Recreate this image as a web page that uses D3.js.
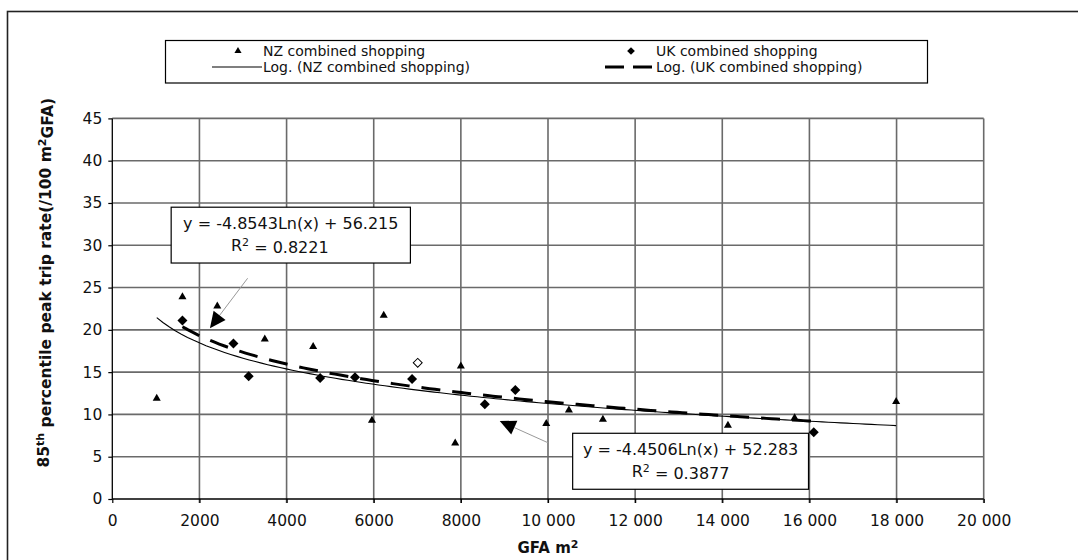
<!DOCTYPE html>
<html>
<head>
<meta charset="utf-8">
<script src="https://cdn.jsdelivr.net/npm/d3@7"></script>
<style>
  body { margin: 0; background: #fff; }
  text { font-family: "DejaVu Sans", Verdana, sans-serif; }
</style>
</head>
<body>
<div id="chart"></div>
<script>
// NZ combined shopping (GFA m2, trip rate)
var nzX = [1020, 1610, 2410, 3500, 4610, 5960, 6230, 7870, 8000, 9960, 10480, 11260, 14130, 15660, 17990];
var nzY = [11.9, 23.9, 22.8, 18.9, 18.0, 9.3, 21.7, 6.6, 15.7, 8.9, 10.5, 9.4, 8.7, 9.6, 11.5];

// UK combined shopping
var ukX = [1610, 2780, 3130, 4770, 5570, 6880, 8550, 9250, 16100];
var ukY = [21.1, 18.4, 14.5, 14.3, 14.4, 14.2, 11.2, 12.9, 7.9];
// UK site drawn hollow (not in the fit)
var ukOutX = [7010];
var ukOutY = [16.1];

// log trendlines y = a*ln(x) + b, last value is R2
var nzFit = [-4.4506, 52.283, 0.3877];
var ukFit = [-4.8543, 56.215, 0.8221];

var xTicks = [0, 2000, 4000, 6000, 8000, 10000, 12000, 14000, 16000, 18000, 20000];
var yTicks = [0, 5, 10, 15, 20, 25, 30, 35, 40, 45];

var width = 1078;
var height = 560;

var svg = d3.select("#chart").append("svg")
    .attr("width", width)
    .attr("height", height);

// outer chart frame (right/bottom edges fall outside the picture)
svg.append("rect")
    .attr("x", 7.5)
    .attr("y", 11.5)
    .attr("width", 1100)
    .attr("height", 600)
    .attr("fill", "none")
    .attr("stroke", "#222")
    .attr("stroke-width", 1.6);

var x = d3.scaleLinear().domain([0, 20000]).range([112.3, 983.7]);
var y = d3.scaleLinear().domain([0, 45]).range([499, 118.4]);

var gridColor = "#6a6a6a";

// gridlines
svg.selectAll("hgrid")
    .data(yTicks.slice(1))
    .enter()
    .append("line")
    .attr("x1", x(0))
    .attr("x2", x(20000))
    .attr("y1", function(d) { return y(d); })
    .attr("y2", function(d) { return y(d); })
    .attr("stroke", gridColor)
    .attr("stroke-width", 1.6);

svg.selectAll("vgrid")
    .data(xTicks.slice(1))
    .enter()
    .append("line")
    .attr("x1", function(d) { return x(d); })
    .attr("x2", function(d) { return x(d); })
    .attr("y1", y(45))
    .attr("y2", y(0) + 4)
    .attr("stroke", gridColor)
    .attr("stroke-width", 1.6);

// axes
var xAxis = d3.axisBottom(x)
    .tickValues(xTicks)
    .tickSize(4)
    .tickPadding(12)
    .tickFormat(function(d) { return d >= 10000 ? d3.format(",")(d).replace(",", " ") : d; });

var yAxis = d3.axisLeft(y)
    .tickValues(yTicks)
    .tickSize(4)
    .tickPadding(6);

var gx = svg.append("g")
    .attr("transform", "translate(0," + y(0) + ")")
    .call(xAxis);
var gy = svg.append("g")
    .attr("transform", "translate(" + x(0) + ",0)")
    .call(yAxis);

[gx, gy].forEach(function(g) {
  g.select(".domain").attr("stroke", "#000").attr("stroke-width", 1.3);
  g.selectAll(".tick line").attr("stroke", "#000").attr("stroke-width", 1.2);
  g.selectAll(".tick text")
    .attr("font-family", "DejaVu Sans, Verdana, sans-serif")
    .attr("font-size", "15.5px")
    .attr("fill", "#111");
});
gx.select(".domain").attr("d", "M" + x(0) + ",0H" + x(20000));
gy.select(".domain").attr("d", "M0," + y(0) + "V" + y(45));

// trendlines, drawn over the x range of each series
function fitLine(fit, xs) {
  var lo = d3.min(xs), hi = d3.max(xs);
  return d3.range(0, 121).map(function(i) {
    var gx = lo + (hi - lo) * i / 120;
    return [gx, fit[0] * Math.log(gx) + fit[1]];
  });
}
var line = d3.line()
    .x(function(d) { return x(d[0]); })
    .y(function(d) { return y(d[1]); });

svg.append("path")
    .attr("d", line(fitLine(nzFit, nzX)))
    .attr("fill", "none")
    .attr("stroke", "#000")
    .attr("stroke-width", 1.1);

svg.append("path")
    .attr("d", line(fitLine(ukFit, ukX)))
    .attr("fill", "none")
    .attr("stroke", "#000")
    .attr("stroke-width", 3)
    .attr("stroke-dasharray", "19,12");

// markers
var tri = d3.symbol().type(d3.symbolTriangle).size(28);
// square turned 45deg = Excel diamond
var dia = d3.symbol().type(d3.symbolSquare).size(50);
var diaSmall = d3.symbol().type(d3.symbolSquare).size(30);

svg.selectAll("nzPoint")
    .data(d3.zip(nzX, nzY))
    .enter()
    .append("path")
    .attr("d", tri)
    .attr("transform", function(d) { return "translate(" + x(d[0]) + "," + y(d[1]) + ")"; })
    .attr("fill", "#000");

svg.selectAll("ukPoint")
    .data(d3.zip(ukX, ukY))
    .enter()
    .append("path")
    .attr("d", dia)
    .attr("transform", function(d) { return "translate(" + x(d[0]) + "," + y(d[1]) + ") rotate(45)"; })
    .attr("fill", "#000");

svg.selectAll("ukOut")
    .data(d3.zip(ukOutX, ukOutY))
    .enter()
    .append("path")
    .attr("d", d3.symbol().type(d3.symbolSquare).size(40))
    .attr("transform", function(d) { return "translate(" + x(d[0]) + "," + y(d[1]) + ") rotate(45)"; })
    .attr("fill", "#fff")
    .attr("stroke", "#000")
    .attr("stroke-width", 1);

// equation labels with pointer arrows (positions in data units)
var labels = [
  { fit: ukFit, box: [1351, 6842, 34.5, 27.9], from: [3106, 26.1], tip: [2241, 20.2], shift: -11 },
  { fit: nzFit, box: [10566, 15979, 7.77, 1.15], from: [10000, 6.65], tip: [8892, 9.22], shift: -10 }
];

labels.forEach(function(l) {
  var bx0 = x(l.box[0]), bx1 = x(l.box[1]), by0 = y(l.box[2]), by1 = y(l.box[3]);
  var cx = (bx0 + bx1) / 2;

  // pointer line + arrow head
  var sx = x(l.from[0]), sy = y(l.from[1]), tx = x(l.tip[0]), ty = y(l.tip[1]);
  var len = Math.hypot(tx - sx, ty - sy);
  var ux = (tx - sx) / len, uy = (ty - sy) / len;
  var hl = 16, hw = 7.5;
  var bx = tx - ux * hl, byy = ty - uy * hl;
  svg.append("line")
      .attr("x1", sx).attr("y1", sy)
      .attr("x2", bx).attr("y2", byy)
      .attr("stroke", "#999")
      .attr("stroke-width", 1);
  svg.append("polygon")
      .attr("points", [[tx, ty], [bx - uy * hw, byy + ux * hw], [bx + uy * hw, byy - ux * hw]].join(" "))
      .attr("fill", "#000");

  svg.append("rect")
      .attr("x", bx0).attr("y", by0)
      .attr("width", bx1 - bx0).attr("height", by1 - by0)
      .attr("fill", "#fff")
      .attr("stroke", "#000")
      .attr("stroke-width", 1.2);

  var rowH = (by1 - by0);
  svg.append("text")
      .attr("x", cx)
      .attr("y", by0 + rowH * 0.29)
      .attr("dy", "0.36em")
      .attr("text-anchor", "middle")
      .attr("font-size", "16px")
      .attr("fill", "#111")
      .text("y = " + l.fit[0] + "Ln(x) + " + l.fit[1]);
  var t2 = svg.append("text")
      .attr("x", cx + l.shift)
      .attr("y", by0 + rowH * 0.68)
      .attr("dy", "0.36em")
      .attr("text-anchor", "middle")
      .attr("font-size", "16px")
      .attr("fill", "#111");
  t2.append("tspan").text("R");
  t2.append("tspan").attr("dy", "-0.45em").attr("font-size", "11px").text("2");
  t2.append("tspan").attr("dy", "0.45em").text(" = " + l.fit[2]);
});

// legend
var lg = svg.append("g");
lg.append("rect")
    .attr("x", 165.5).attr("y", 40.5)
    .attr("width", 762).attr("height", 42.5)
    .attr("fill", "#fff")
    .attr("stroke", "#000")
    .attr("stroke-width", 1.2);

var legendItems = [
  { label: "NZ combined shopping", mx: 238, tx: 263, row: 0, kind: "tri" },
  { label: "Log. (NZ combined shopping)", mx: 238, tx: 263, row: 1, kind: "solid" },
  { label: "UK combined shopping", mx: 631, tx: 656, row: 0, kind: "dia" },
  { label: "Log. (UK combined shopping)", mx: 631, tx: 656, row: 1, kind: "dash" }
];
var rowY = [51, 67];

legendItems.forEach(function(it) {
  var ly = rowY[it.row];
  if (it.kind === "tri") {
    lg.append("path").attr("d", d3.symbol().type(d3.symbolTriangle).size(22))
      .attr("transform", "translate(" + it.mx + "," + ly + ")").attr("fill", "#000");
  } else if (it.kind === "dia") {
    lg.append("path").attr("d", diaSmall)
      .attr("transform", "translate(" + it.mx + "," + ly + ") rotate(45)").attr("fill", "#000");
  } else if (it.kind === "solid") {
    lg.append("line").attr("x1", it.tx - 51).attr("x2", it.tx - 1).attr("y1", ly).attr("y2", ly)
      .attr("stroke", "#000").attr("stroke-width", 1.1);
  } else {
    lg.append("line").attr("x1", it.tx - 51).attr("x2", it.tx - 2).attr("y1", ly).attr("y2", ly)
      .attr("stroke", "#000").attr("stroke-width", 3).attr("stroke-dasharray", "19,9");
  }
  lg.append("text")
    .attr("x", it.tx)
    .attr("y", ly)
    .attr("dy", "0.36em")
    .attr("font-size", "14px")
    .attr("fill", "#111")
    .text(it.label);
});

// axis titles
var yt = svg.append("text")
    .attr("transform", "translate(49," + ((y(0) + y(45)) / 2 - 26) + ") rotate(-90)")
    .attr("text-anchor", "middle")
    .attr("font-size", "15.5px")
    .attr("font-weight", "bold")
    .attr("fill", "#111");
yt.append("tspan").text("85");
yt.append("tspan").attr("dy", "-0.45em").attr("font-size", "11px").text("th");
yt.append("tspan").attr("dy", "0.45em").text(" percentile peak trip rate(/100 m");
yt.append("tspan").attr("dy", "-0.45em").attr("font-size", "11px").text("2");
yt.append("tspan").attr("dy", "0.45em").text("GFA)");

var xt = svg.append("text")
    .attr("x", (x(0) + x(20000)) / 2)
    .attr("y", 553)
    .attr("text-anchor", "middle")
    .attr("font-size", "15px")
    .attr("font-weight", "bold")
    .attr("fill", "#111");
xt.append("tspan").text("GFA m");
xt.append("tspan").attr("dy", "-0.45em").attr("font-size", "11px").text("2");
</script>
</body>
</html>
